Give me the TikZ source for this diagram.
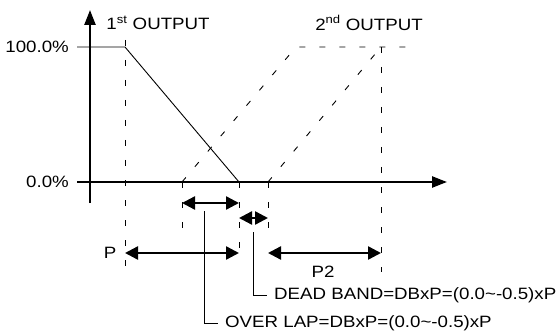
\documentclass[tikz,border=0pt]{standalone}
\usepackage{fontspec}
\setmainfont{Liberation Sans}[FakeStretch=1.14]
\usetikzlibrary{arrows.meta}

\tikzset{
  axis/.style={line width=2.4pt, -{Triangle[length=15pt,width=11pt]}},
  guide/.style={line width=0.9pt, dash pattern=on 6pt off 14pt},
  dimarrow/.style={line width=2.4pt, {Triangle[length=13pt,width=13pt]}-{Triangle[length=13pt,width=13pt]}},
  lbl/.style={font=\fontsize{16.4}{19}\selectfont, inner sep=2pt},
  leader/.style={line width=0.9pt},
}

\begin{document}
\begin{tikzpicture}[x=1pt,y=-1pt]
  \useasboundingbox (0,0) rectangle (557,334);
  % axes
  \coordinate (ybot) at (90,203);
  \coordinate (ytop) at (90,10);
  \coordinate (xleft) at (77,182);
  \coordinate (xright) at (447,182);
  \draw[axis] (ybot) -- (ytop);
  \draw[axis] (xleft) -- (xright);
  \node[lbl, anchor=east] (full) at (71,47) {100.0\%};
  \node[lbl, anchor=east] (zero) at (71,182) {0.0\%};
  \node[lbl] (out1) at (158,23) {1\textsuperscript{st} OUTPUT};
  \node[lbl] (out2) at (369,23) {2\textsuperscript{nd} OUTPUT};

  % 1st output
  \coordinate (h1) at (77,47);
  \coordinate (k1) at (125,47);
  \coordinate (z1) at (239,182);
  \draw[line width=0.9pt] (h1) -- (k1) -- (z1);

  % 2nd output (dashed)
  \coordinate (a2) at (182,182);
  \coordinate (t2) at (296,47);
  \coordinate (e2) at (418,47);
  \coordinate (b2) at (268,182);
  \coordinate (t3) at (381,47);
  \draw[guide] (a2) -- (t2) -- (e2);
  \draw[guide] (b2) -- (t3);

  % vertical guides
  \draw[guide] (125,40) -- (125,268);
  \draw[guide] (t3) -- (381,272);
  \draw[guide] (a2) -- (182,232);
  \draw[guide] (z1) -- (239,260);
  \draw[guide] (b2) -- (268,232);

  % dimension arrows
  \coordinate (ol1) at (182,203);
  \coordinate (ol2) at (239,203);
  \coordinate (db1) at (239,218);
  \coordinate (db2) at (268,218);
  \coordinate (p1) at (125,253);
  \coordinate (p2) at (239,253);
  \coordinate (q1) at (268,253);
  \coordinate (q2) at (381,253);
  \draw[dimarrow] (ol1) -- (ol2);
  \draw[dimarrow] (db1) -- (db2);
  \draw[dimarrow] (p1) -- (p2);
  \draw[dimarrow] (q1) -- (q2);
  \node[lbl] (plabel) at (110,253) {P};
  \node[lbl] (p2label) at (323,272) {P2};

  % leaders
  \node[lbl, anchor=west, inner xsep=7pt] (dbtext) at (267,295) {DEAD BAND=DBxP=(0.0\char`\~-0.5)xP};
  \node[lbl, anchor=west, inner xsep=7pt] (oltext) at (218,323) {OVER LAP=DBxP=(0.0\char`\~-0.5)xP};
  \coordinate (dbfoot) at (253,232);
  \coordinate (olfoot) at (204,211);
  \draw[leader] (dbfoot) |- (dbtext.west);
  \draw[leader] (olfoot) |- (oltext.west);
\end{tikzpicture}
\end{document}
